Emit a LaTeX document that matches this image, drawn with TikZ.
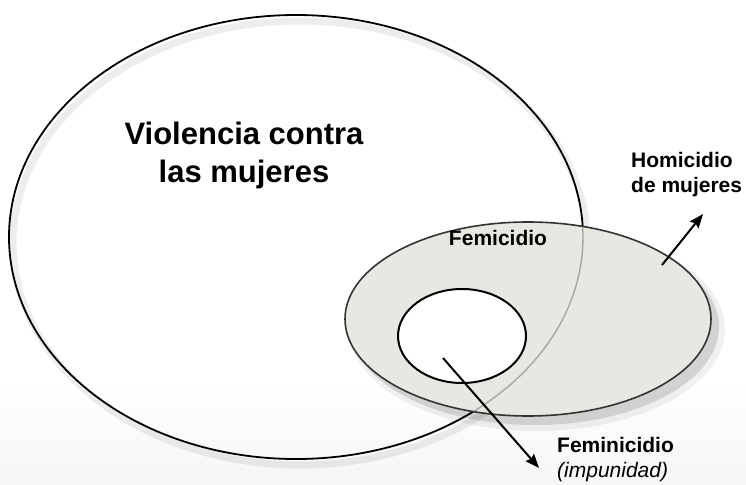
\documentclass[tikz,border=0pt]{standalone}
\usepackage{fontspec}
\setmainfont{Liberation Sans}
\usetikzlibrary{shapes.geometric,arrows.meta}
\definecolor{femfill}{RGB}{232,232,226}
\definecolor{bgbottom}{RGB}{246,246,244}
\begin{document}
\begin{tikzpicture}[x=1pt,y=-1pt,
  bigset/.style={draw=black, line width=1.8pt, ellipse, inner sep=0pt, minimum width=574pt, minimum height=444pt},
  femset/.style={draw=black!80, line width=1.6pt, ellipse, inner sep=0pt, fill=femfill, minimum width=366pt, minimum height=194pt},
  innerset/.style={draw=black, line width=2pt, ellipse, inner sep=0pt, fill=white, minimum width=128pt, minimum height=94pt},
  arr/.style={line width=2pt, -{Stealth[length=14pt,width=11pt,inset=2pt]}},
  lbl/.style={font=\bfseries\fontsize{21}{25}\selectfont, align=center, inner sep=0pt},
  biglbl/.style={font=\bfseries\fontsize{31}{38}\selectfont, align=center, inner sep=0pt}]
\useasboundingbox (0,0) rectangle (746,484);
\fill[white] (0,0) rectangle (746,484);
\shade[top color=white, bottom color=bgbottom] (0,380) rectangle (746,484);
% soft shadows
\draw[black, opacity=0.07, line width=7pt] (300,243) ellipse [x radius=287pt, y radius=222pt];
\fill[black, opacity=0.12] (535,327) ellipse [x radius=184pt, y radius=98pt];
\fill[black, opacity=0.06] (537,329) ellipse [x radius=188pt, y radius=102pt];
% big ellipse
\node[bigset] (viol) at (296,237) {};
% femicidio ellipse
\node[femset] (femi) at (528,319) {};
\begin{scope}
  \clip (528,319) ellipse [x radius=182pt, y radius=96pt];
  \draw[black!35, line width=1.4pt] (296,237) ellipse [x radius=287pt, y radius=222pt];
\end{scope}
% inner circle
\node[innerset] (femini) at (462,336) {};
% labels
\node[biglbl] (tviol) at (244,155) {Violencia contra\\las mujeres};
\node[lbl] (tfemi) at (498,238) {Femicidio};
\node[lbl, anchor=west, align=left] (thom) at (631,175) {Homicidio\\de mujeres};
\node[lbl, anchor=west, align=left] (tfemini) at (557,460) {Feminicidio\\{\mdseries\itshape (impunidad)}};
% arrows
\coordinate (a1s) at (443,358);
\coordinate (a1e) at (539,468);
\coordinate (a2s) at (662,265);
\coordinate (a2e) at (703,214);
\draw[arr] (a1s) -- (a1e);
\draw[arr] (a2s) -- (a2e);
\end{tikzpicture}
\end{document}
